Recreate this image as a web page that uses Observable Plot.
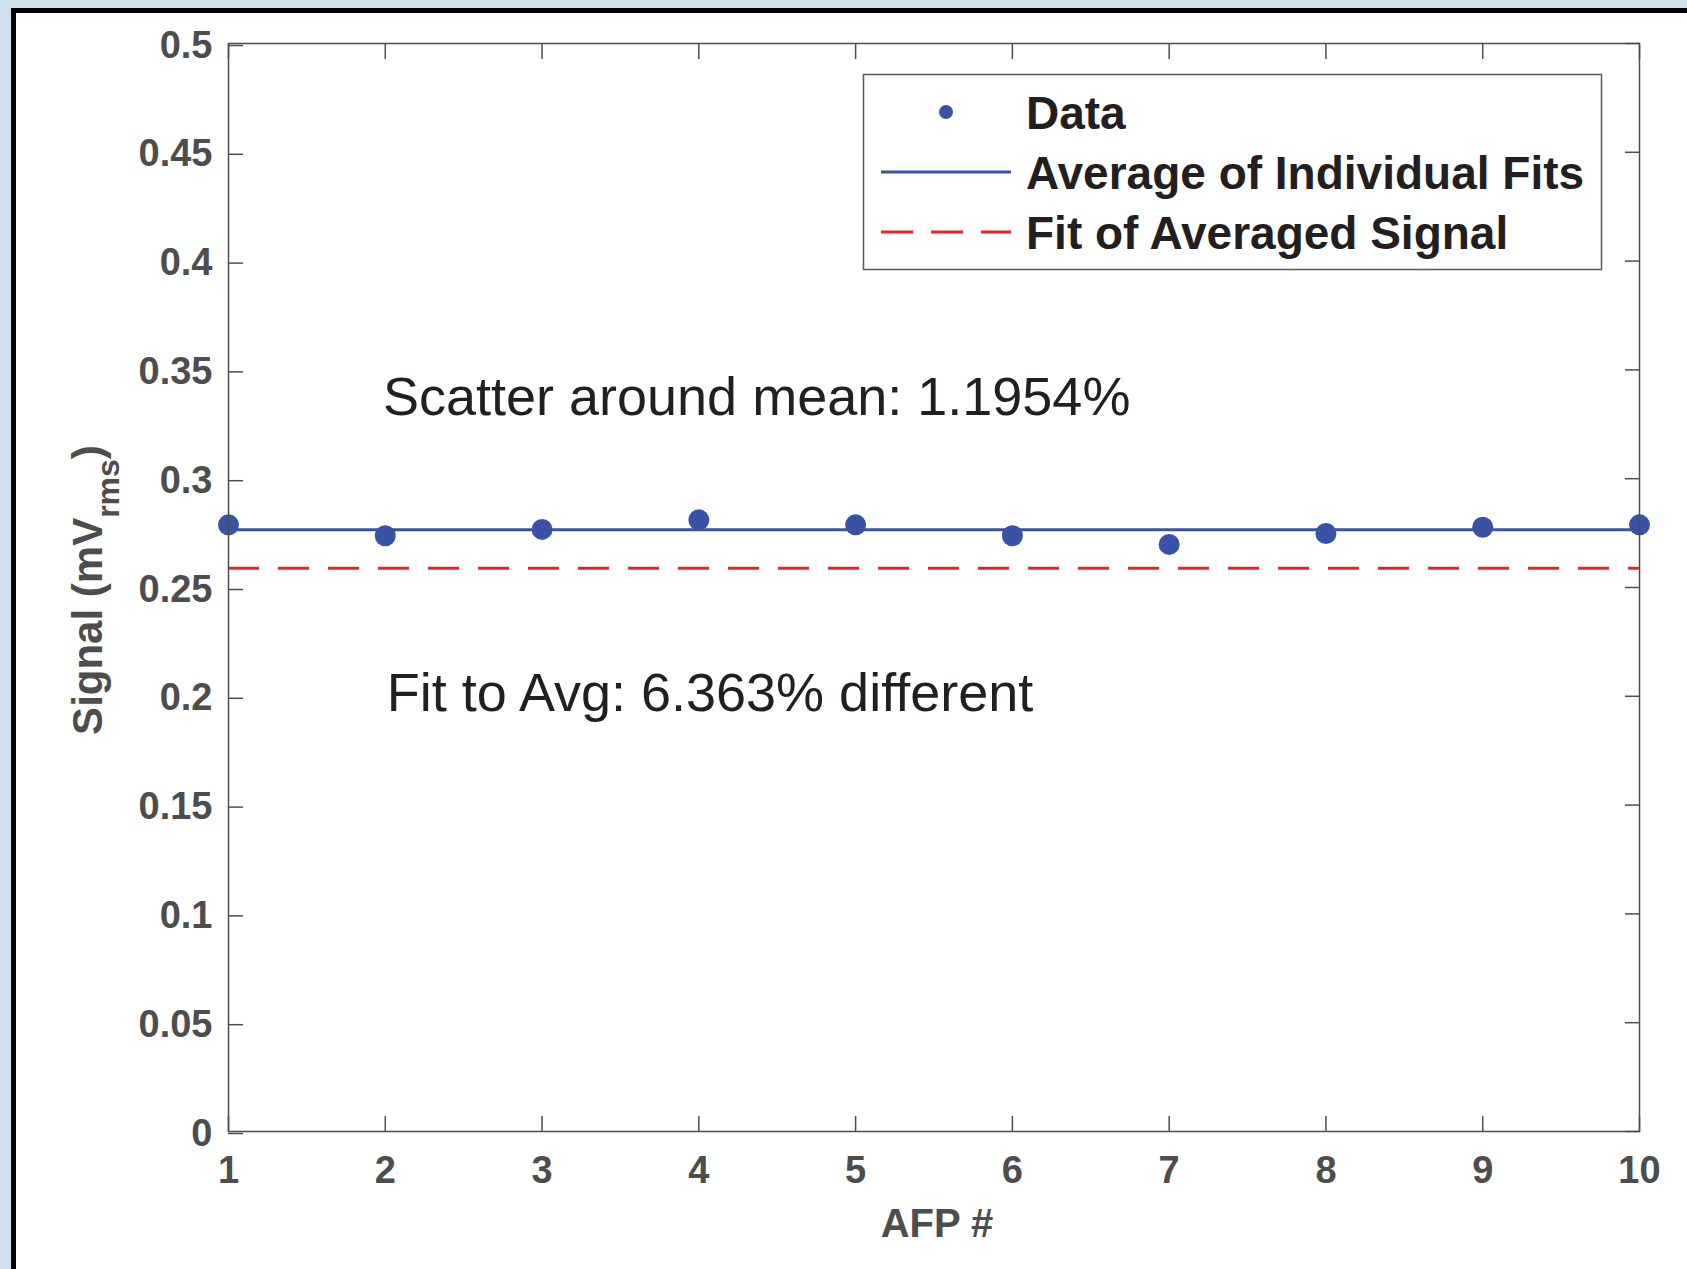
<!DOCTYPE html>
<html>
<head>
<meta charset="utf-8">
<script src="https://cdn.jsdelivr.net/npm/d3@7"></script>
<script src="https://cdn.jsdelivr.net/npm/@observablehq/plot@0.6"></script>
<style>
  html, body { margin: 0; padding: 0; }
  body { width: 1687px; height: 1269px; overflow: hidden; position: relative; background: #cfe1ec; }
  #frame { position: absolute; left: 11px; top: 8px; right: -20px; bottom: -20px;
           border-left: 5px solid #000; border-top: 5px solid #000; background: #fff; }
  #chart { position: absolute; left: 0; top: 0; }
</style>
</head>
<body>
<div id="frame"></div>
<div id="chart"></div>
<script>
// ---- data ----
const afp = [1, 2, 3, 4, 5, 6, 7, 8, 9, 10];
const signal = [0.2788, 0.2738, 0.2767, 0.2811, 0.2788, 0.2738, 0.2698, 0.2748, 0.2777, 0.2788];
const avgOfIndividualFits = 0.2765;
const fitOfAveragedSignal = 0.2589;
const xTicks = [1, 2, 3, 4, 5, 6, 7, 8, 9, 10];
const yTicks = [0, 0.05, 0.1, 0.15, 0.2, 0.25, 0.3, 0.35, 0.4, 0.45, 0.5];
const yTickLabels = ["0", "0.05", "0.1", "0.15", "0.2", "0.25", "0.3", "0.35", "0.4", "0.45", "0.5"];
const annotationTexts = ["Scatter around mean: 1.1954%", "Fit to Avg: 6.363% different"];
const annotationX = [1.985, 2.01];
const annotationY = [0.337, 0.201];
const legendLabels = ["Data", "Average of Individual Fits", "Fit of Averaged Signal"];
const xLabel = "AFP #";
const yLabelMain = "Signal (mV";
const yLabelSub = "rms";
const yLabelEnd = ")";

// ---- styles ----
const BLUE = "#3853a5";
const RED = "#e8242b";
const AXIS = "#4d4d4d";
const TEXT = "#231f20";
const FONT = "'Liberation Sans', Arial, Helvetica, sans-serif";

const points = afp.map((a, i) => ({afp: a, signal: signal[i]}));
const annotations = annotationTexts.map((t, i) => ({text: t, x: annotationX[i], y: annotationY[i]}));
const yFmt = d => yTickLabels[yTicks.indexOf(d)];

const W = 1687, H = 1269;
const ML = 228, MT = 43, MR = 48, MB = 138;

const plot = Plot.plot({
  width: W,
  height: H,
  marginLeft: ML,
  marginTop: MT,
  marginRight: MR,
  marginBottom: MB,
  style: {background: "transparent", fontFamily: FONT, color: AXIS, overflow: "visible"},
  x: {domain: [1, 10]},
  y: {domain: [0, 0.5]},
  marks: [
    Plot.ruleY([fitOfAveragedSignal], {stroke: RED, strokeWidth: 3, strokeDasharray: "31,19"}),
    Plot.ruleY([avgOfIndividualFits], {stroke: BLUE, strokeWidth: 3}),
    Plot.dot(points, {x: "afp", y: "signal", r: 10.5, fill: BLUE}),
    Plot.text(annotations, {x: "x", y: "y", text: "text", textAnchor: "start", fontSize: 54, fill: TEXT}),
    Plot.axisY(yTicks, {anchor: "left", tickSize: -15, tickPadding: 31, tickFormat: yFmt,
      fontSize: 38, fontWeight: "bold", stroke: AXIS, strokeWidth: 1.5, dy: 2, label: null}),
    Plot.axisY(yTicks, {anchor: "right", tickSize: -15, tickFormat: () => "", stroke: AXIS, strokeWidth: 1.5, label: null}),
    Plot.axisX(xTicks, {anchor: "bottom", tickSize: -15, tickPadding: 40, tickFormat: d => String(d),
      fontSize: 38, fontWeight: "bold", stroke: AXIS, strokeWidth: 1.5, label: null}),
    Plot.axisX(xTicks, {anchor: "top", tickSize: -15, tickFormat: () => "", stroke: AXIS, strokeWidth: 1.5, label: null}),
    Plot.frame({stroke: AXIS, strokeWidth: 1.5})
  ]
});
document.getElementById("chart").appendChild(plot);

const svg = d3.select(plot);

// axis labels
svg.append("text")
  .attr("x", 937).attr("y", 1237)
  .attr("text-anchor", "middle")
  .attr("font-size", 40).attr("font-weight", "bold").attr("fill", AXIS)
  .text(xLabel);

const yl = svg.append("text")
  .attr("transform", "translate(102,590) rotate(-90)")
  .attr("text-anchor", "middle")
  .attr("font-size", 42).attr("font-weight", "bold").attr("fill", AXIS);
yl.append("tspan").text(yLabelMain);
yl.append("tspan").attr("font-size", 32).attr("dy", 17).text(yLabelSub);
yl.append("tspan").attr("dy", -17).text(yLabelEnd);

// legend
const lg = svg.append("g").attr("text-anchor", "start");
lg.append("rect").attr("x", 863.5).attr("y", 74.5).attr("width", 738).attr("height", 195)
  .attr("fill", "#fff").attr("stroke", "#5a5a5a").attr("stroke-width", 1.5);
const rowY = [112, 172, 232];
lg.append("circle").attr("cx", 946).attr("cy", rowY[0]).attr("r", 7).attr("fill", BLUE);
lg.append("line").attr("x1", 881).attr("x2", 1011).attr("y1", rowY[1]).attr("y2", rowY[1])
  .attr("stroke", BLUE).attr("stroke-width", 3);
lg.append("line").attr("x1", 881).attr("x2", 1011).attr("y1", rowY[2]).attr("y2", rowY[2])
  .attr("stroke", RED).attr("stroke-width", 3).attr("stroke-dasharray", "32,18");
legendLabels.forEach((t, i) => {
  lg.append("text").attr("x", 1026).attr("y", rowY[i] + 17).attr("text-anchor", "start")
    .attr("font-size", 46).attr("font-weight", "bold").attr("fill", TEXT).text(t);
});
</script>
</body>
</html>
